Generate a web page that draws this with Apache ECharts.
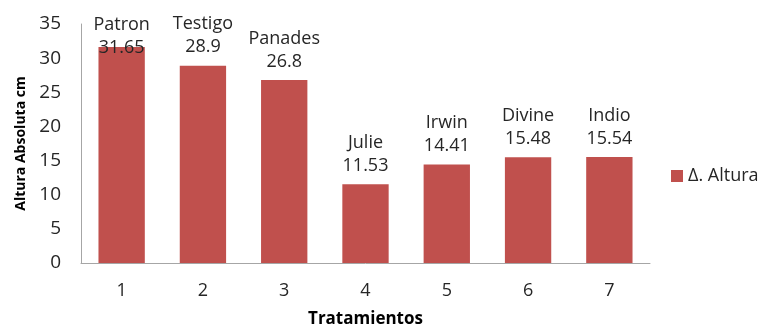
<!DOCTYPE html>
<html>
<head>
<meta charset="utf-8">
<script src="https://cdn.jsdelivr.net/npm/echarts@6/dist/echarts.min.js"></script>
<style>
  html, body { margin: 0; padding: 0; background: #fff; }
  #chart { width: 762px; height: 333px; }
</style>
</head>
<body>
<div id="chart"></div>
<script>
// Treatment numbers on the x axis, the variety names and the height change per treatment
const categories = ['1', '2', '3', '4', '5', '6', '7'];
const treatmentNames = ['Patron', 'Testigo', 'Panades', 'Julie', 'Irwin', 'Divine', 'Indio'];
const alturaValues = [31.65, 28.9, 26.8, 11.53, 14.41, 15.48, 15.54];
const seriesName = 'Δ. Altura';

const FONT = '"Open Sans", "DejaVu Sans", sans-serif';
const TEXT = '#262626';
const AXIS_GRAY = '#A6A6A6';
const BAR_RED = '#C0504D';

const barData = alturaValues.map(function (v, i) {
  const item = { value: v };
  // the tallest label is held inside the plot area
  if (i === 0) item.label = { offset: [0, 19] };
  return item;
});

const chart = echarts.init(document.getElementById('chart'), null, { renderer: 'canvas' });
chart.setOption({
  animation: false,
  backgroundColor: '#ffffff',
  textStyle: { fontFamily: FONT },
  grid: { left: 81, right: 112, top: 24, bottom: 64, containLabel: false },
  legend: {
    data: [seriesName],
    left: 666,
    top: 162,
    icon: 'rect',
    itemWidth: 12,
    itemHeight: 12,
    itemGap: 6,
    textStyle: { fontFamily: FONT, fontSize: 18, color: TEXT }
  },
  xAxis: {
    type: 'category',
    data: categories,
    boundaryGap: true,
    axisLine: { show: true, lineStyle: { color: AXIS_GRAY, width: 1 } },
    axisTick: { show: false },
    axisLabel: { fontFamily: FONT, fontSize: 18, color: TEXT, margin: 19 },
    name: 'Tratamientos',
    nameLocation: 'middle',
    nameGap: 48,
    nameTextStyle: { fontFamily: FONT, fontSize: 17, fontWeight: 'bold', color: '#000' }
  },
  yAxis: {
    type: 'value',
    min: 0,
    max: 35,
    interval: 5,
    axisLine: { show: true, lineStyle: { color: AXIS_GRAY, width: 1 } },
    axisTick: { show: false },
    splitLine: { show: false },
    axisLabel: { fontFamily: FONT, fontSize: 19, color: TEXT, margin: 20 },
    name: 'Altura Absoluta cm',
    nameLocation: 'middle',
    nameRotate: 90,
    nameGap: 52,
    nameTextStyle: { fontFamily: FONT, fontSize: 14, fontWeight: 'bold', color: '#000' }
  },
  series: [{
    name: seriesName,
    type: 'bar',
    data: barData,
    barWidth: '57%',
    itemStyle: { color: BAR_RED },
    label: {
      show: true,
      position: 'top',
      distance: 7,
      fontFamily: FONT,
      fontSize: 18,
      lineHeight: 23,
      color: TEXT,
      formatter: function (p) {
        return treatmentNames[p.dataIndex] + '\n' + p.value;
      }
    }
  }]
});
</script>
</body>
</html>
